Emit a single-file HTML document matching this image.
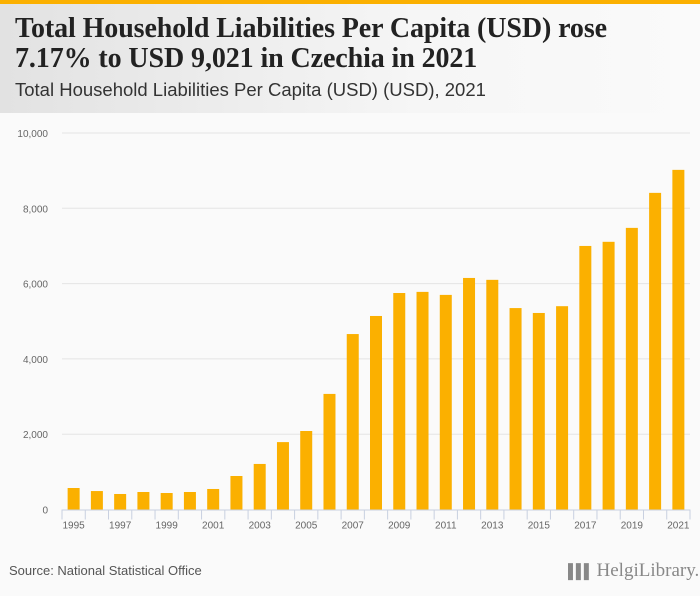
<!DOCTYPE html>
<html><head><meta charset="utf-8"><style>
body{margin:0;width:700px;height:596px;background:#fafafa;font-family:"Liberation Sans",sans-serif;overflow:hidden;position:relative}
#hdr{position:absolute;left:0;top:0;width:700px;height:113px;background:linear-gradient(90deg,#e2e2e2,#f6f6f6 60%,#fafafa)}
#topbar{position:absolute;left:0;top:0;width:700px;height:4px;background:#fbb000}
#title{position:absolute;left:15px;top:14px;font-family:"Liberation Serif",serif;font-weight:bold;font-size:28px;line-height:30px;color:#222;letter-spacing:-0.1px}
#sub{position:absolute;left:15px;top:79px;font-size:18.5px;color:#333}
#src{position:absolute;left:9px;top:563px;font-size:13px;color:#555}
#logo{position:absolute;left:568px;top:560px;font-family:"Liberation Serif",serif;font-size:19px;color:#888}
</style></head><body>
<div id="hdr"></div>
<div id="topbar"></div>
<div id="title">Total Household Liabilities Per Capita (USD) rose<br>7.17% to USD 9,021 in Czechia in 2021</div>
<div id="sub">Total Household Liabilities Per Capita (USD) (USD), 2021</div>
<svg id="chart" width="700" height="596" style="position:absolute;left:0;top:0"></svg>
<div id="src">Source: National Statistical Office</div>
<div id="logo"><span style="font-size:14px;letter-spacing:-2px">▌▌▌</span> HelgiLibrary.</div>
<script>
const years=[1995,1996,1997,1998,1999,2000,2001,2002,2003,2004,2005,2006,2007,2008,2009,2010,2011,2012,2013,2014,2015,2016,2017,2018,2019,2020,2021];
const values=[571,490,412,465,438,465,545,890,1210,1790,2085,3070,4660,5140,5750,5780,5700,6150,6100,5350,5220,5400,7000,7110,7480,8410,9021];
const yTicks=[0,2000,4000,6000,8000,10000];
const yTickLabels=["0","2,000","4,000","6,000","8,000","10,000"];
const NS="http://www.w3.org/2000/svg";
const svg=document.getElementById('chart');
const y0=509.5,yTop=133,yMax=10000;
const x0=62,x1=690;
function y(v){return y0-(v/yMax)*(y0-yTop);}
const step=(x1-x0)/years.length;
function xc(i){return x0+step*(i+0.5);}
function mk(t,a){const e=document.createElementNS(NS,t);for(const k in a)e.setAttribute(k,a[k]);svg.appendChild(e);return e;}
yTicks.forEach((t,i)=>{
  if(t>0){const g=mk('line',{x1:x0,x2:x1,y1:y(t),y2:y(t),stroke:'#e4e4e4','stroke-width':1});
  
  }
  const l=mk('text',{x:48,y:y(t)+4,'text-anchor':'end','font-size':10,fill:'#666','font-family':'Liberation Sans, sans-serif'});
  l.textContent=yTickLabels[i];
  
  
});
values.forEach((v,i)=>{
  const r=mk('rect',{x:xc(i)-6,y:y(v),width:12,height:y0-y(v),fill:'#fbb000'});
  
  
});
const ax=mk('line',{x1:x0,x2:x1,y1:y0+0.5,y2:y0+0.5,stroke:'#c8d0e0','stroke-width':1});


for(let i=0;i<=years.length;i++){
  const tk=mk('line',{x1:x0+step*i,x2:x0+step*i,y1:y0,y2:y0+10,stroke:'#c8d0e0','stroke-width':1});
  
  
}
years.forEach((yr,i)=>{
  if(i%2)return;
  const l=mk('text',{x:xc(i),y:y0+19,'text-anchor':'middle','font-size':10,fill:'#666','font-family':'Liberation Sans, sans-serif'});
  l.textContent=yr;
  
  
});
</script>
</body></html>
